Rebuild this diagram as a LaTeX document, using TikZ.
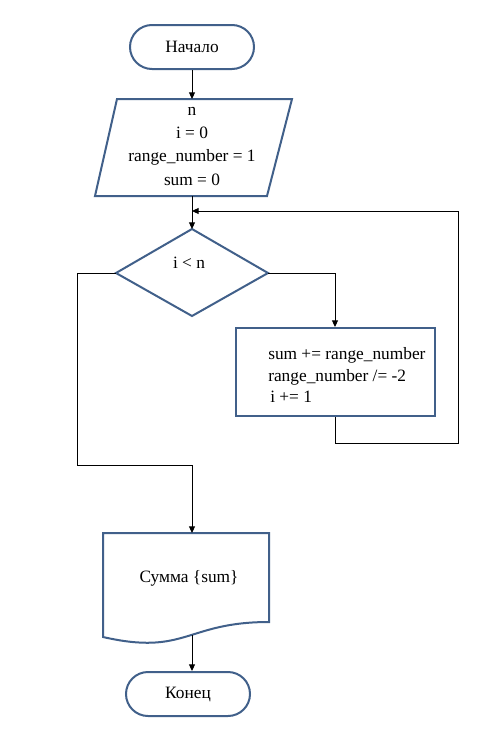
\documentclass[tikz,border=0pt]{standalone}
\usepackage{fontspec}
\setmainfont{Liberation Serif}
\usetikzlibrary{arrows.meta,shapes.misc}
\definecolor{shapeblue}{HTML}{41608A}
\begin{document}
\begin{tikzpicture}[x=0.75pt,y=-0.75pt,
  shp/.style={draw=shapeblue, line width=1.5pt},
  term/.style={shp, rounded rectangle, minimum width=93pt, minimum height=33pt, inner sep=0pt, font=\fontsize{13}{16}\selectfont},
  conn/.style={draw=black, line width=0.75pt},
  arr/.style={conn, -{Triangle[length=5pt,width=4.5pt]}},
  txt/.style={inner sep=0pt, font=\fontsize{13}{16}\selectfont}]
\useasboundingbox (0,0) rectangle (479,750);

% start
\node[term] (start) at (192,47) {Начало};

% input parallelogram
\draw[shp] (117,99) -- (292,99) -- (267,196) -- (95,196) -- cycle;
\coordinate (pTop) at (192,99);
\coordinate (pBot) at (192,196);
\node[txt, align=center, font=\fontsize{13}{17.5}\selectfont] (inp) at (192,146) {n\\i = 0\\range\_number = 1\\sum = 0};

% decision diamond
\draw[shp] (192,229) -- (268,273) -- (192,316) -- (116,273) -- cycle;
\coordinate (dT) at (192,229);
\coordinate (dR) at (268,273);
\coordinate (dL) at (116,273);
\node[txt] (cond) at (189,263) {i < n};

% process box
\node[shp, minimum width=149.25pt, minimum height=66pt, inner sep=0pt] (bx) at (335,372) {};
\node[txt, align=left, anchor=west, font=\fontsize{13}{16.1}\selectfont] (bxt) at (268,375) {sum += range\_number\\range\_number /= -2\\\hspace{1.5pt}i += 1};

% document
\draw[shp] (103,533) -- (269,533) -- (269,622) .. controls (186,622) and (186,656) .. (103,637) -- cycle;
\coordinate (docTop) at (192,533);
\coordinate (docBot) at (192,635);
\node[txt] (doct) at (189,578) {Сумма \{sum\}};

% end
\node[term] (end) at (188,694) {Конец};

% loop helper points
\coordinate (merge) at (192,211);
\coordinate (lp1) at (458,443);
\coordinate (lp2) at (77,465);

% connectors
\draw[arr] (start.south) -- (pTop);
\draw[arr] (pBot) -- (dT);
\draw[arr] (dR) -| (bx.north);
\draw[arr] (bx.south) |- (lp1) |- (merge);
\draw[arr] (dL) -| (lp2) -| (docTop);
\draw[arr] (docBot) -- (docBot |- end.north);
\end{tikzpicture}
\end{document}
